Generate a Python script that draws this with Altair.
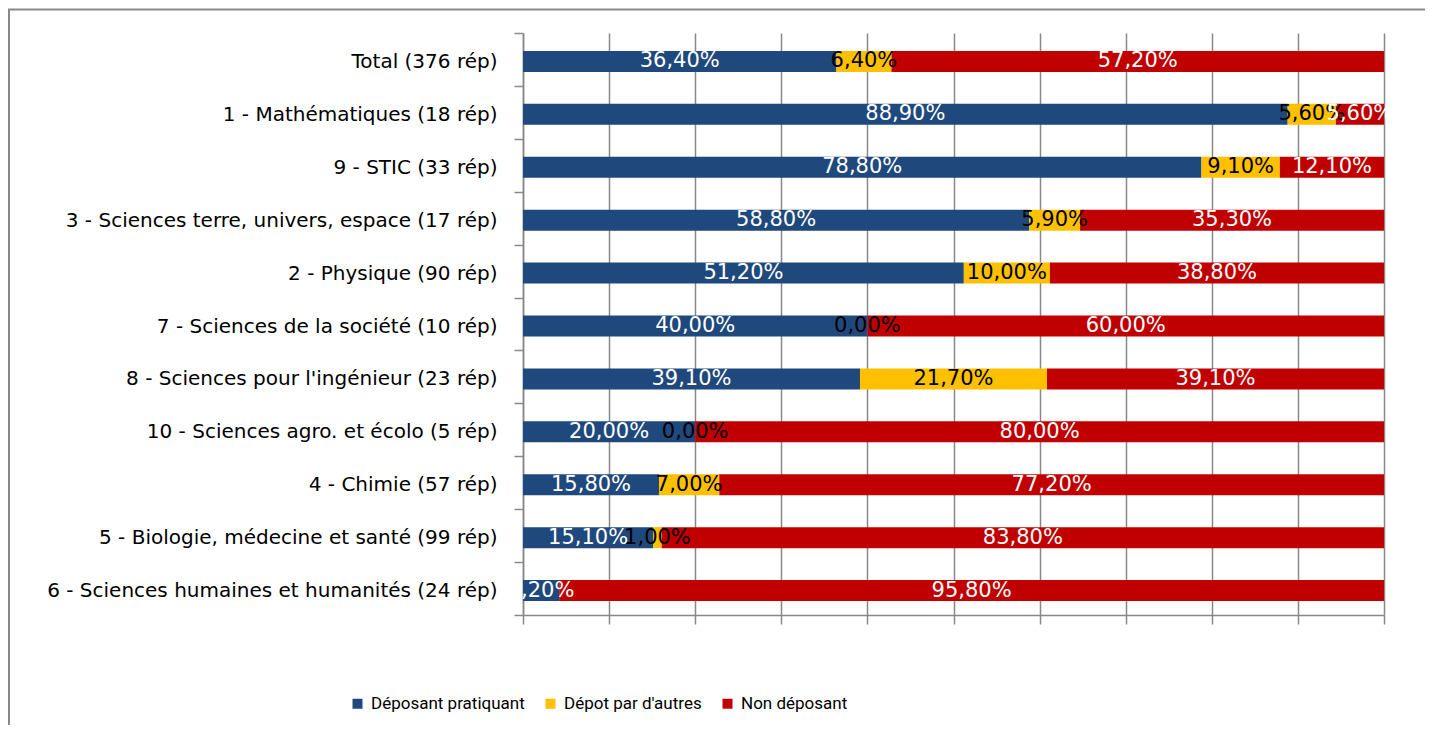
import altair as alt
import pandas as pd

categories = [
    "Total (376 rép)",
    "1 - Mathématiques (18 rép)",
    "9 - STIC (33 rép)",
    "3 - Sciences terre, univers, espace (17 rép)",
    "2 - Physique (90 rép)",
    "7 - Sciences de la société (10 rép)",
    "8 - Sciences pour l'ingénieur (23 rép)",
    "10 - Sciences agro. et écolo (5 rép)",
    "4 - Chimie (57 rép)",
    "5 - Biologie, médecine et santé (99 rép)",
    "6 - Sciences humaines et humanités (24 rép)",
]
deposant = [36.4, 88.9, 78.8, 58.8, 51.2, 40.0, 39.1, 20.0, 15.8, 15.1, 4.2]
autres = [6.4, 5.6, 9.1, 5.9, 10.0, 0.0, 21.7, 0.0, 7.0, 1.0, 0.0]
non = [57.2, 5.6, 12.1, 35.3, 38.8, 60.0, 39.1, 80.0, 77.2, 83.8, 95.8]
series = ["Déposant pratiquant", "Dépot par d'autres", "Non déposant"]
colors = ["#1F497D", "#FFC000", "#C00000"]
hidden_labels = [("6 - Sciences humaines et humanités (24 rép)", "Dépot par d'autres")]
x_ticks = [0, 0.1, 0.2, 0.3, 0.4, 0.5, 0.6, 0.7, 0.8, 0.9, 1.0]

rows = []
for i, cat in enumerate(categories):
    for j, (s, vals) in enumerate(zip(series, [deposant, autres, non])):
        rows.append({"cat": cat, "series": s, "order": j, "value": vals[i],
                     "show": (cat, s) not in hidden_labels})
df = pd.DataFrame(rows)

base = alt.Chart(df).transform_stack(
    stack="value", groupby=["cat"], as_=["x0", "x1"],
    sort=[alt.SortField("order", order="ascending")], offset="normalize")

y_enc = alt.Y("cat:N", sort=categories,
              scale=alt.Scale(paddingInner=0, paddingOuter=0),
              axis=alt.Axis(title=None, tickBand="extent", labelFontSize=20,
                            labelFont="DejaVu Sans", labelColor="black",
                            labelPadding=17, tickSize=9, tickColor="#888888",
                            tickWidth=1.5, domainColor="#888888", domainWidth=1.5,
                            labelLimit=700, labelOffset=2))

bars = base.mark_bar(size=21, yOffset=2).encode(
    x=alt.X("x0:Q", scale=alt.Scale(domain=[0, 1]),
            axis=alt.Axis(title=None, labels=False, values=x_ticks, grid=True,
                          gridColor="#888888", gridWidth=1.5, tickSize=9,
                          tickColor="#888888", tickWidth=1.5,
                          domainColor="#888888", domainWidth=1.5)),
    x2="x1:Q",
    y=y_enc,
    color=alt.Color("series:N", scale=alt.Scale(domain=series, range=colors),
                    legend=alt.Legend(title=None, orient="none", legendX=-174,
                                      legendY=662, direction="horizontal",
                                      symbolType="square", symbolSize=100,
                                      symbolStrokeWidth=0, symbolOpacity=1,
                                      labelFont="Roboto",
                                      labelFontSize=17, labelColor="black",
                                      labelLimit=400,
                                      columnPadding=17, labelOffset=5)),
)

text = base.transform_filter("datum.show").transform_calculate(
    mid="(datum.x0 + datum.x1) / 2",
    label="replace(format(datum.value, '.2f'), '.', ',') + '%'",
    tc="datum.order == 1 ? 'black' : 'white'",
).mark_text(font="DejaVu Sans", fontSize=21, baseline="middle", dy=2).encode(
    x="mid:Q",
    y=alt.Y("cat:N", sort=categories),
    text="label:N",
    color=alt.Color("tc:N", scale=None),
    order="order:Q",
)

border = alt.Chart(alt.Data(values=[{}])).mark_rect(
    fillOpacity=0, stroke="#888888", strokeWidth=2).encode(
    x=alt.value(-514), y=alt.value(-23.5), x2=alt.value(3000), y2=alt.value(3000))

chart = alt.layer(border, bars, text).resolve_scale(color="independent").properties(
    width=861, height=582,
    autosize=alt.AutoSizeParams(type="none"),
    padding={"left": 515, "top": 25, "right": 41, "bottom": 110},
    background="white",
).configure_view(stroke=None)

chart.save("out.html", embed_options={"renderer": "svg", "actions": False})
